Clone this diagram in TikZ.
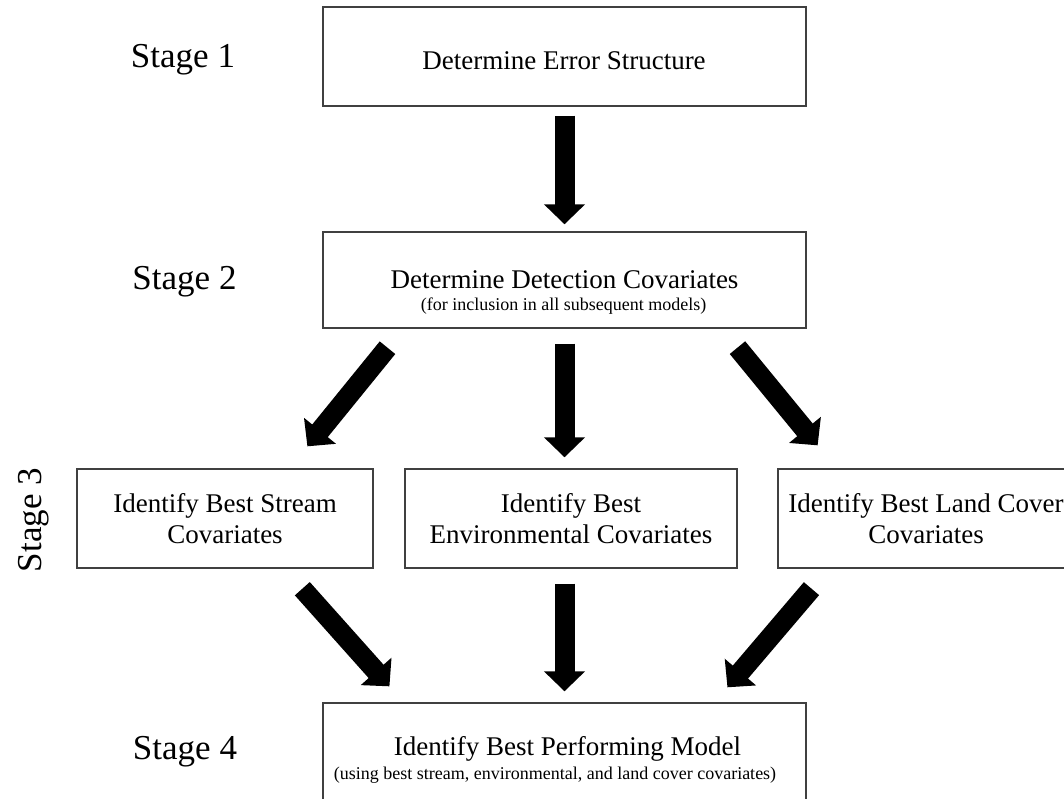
\documentclass[tikz,border=0pt]{standalone}
\usepackage{fontspec}
\setmainfont{Liberation Serif}
\usetikzlibrary{arrows.meta,calc}
\begin{document}
\begin{tikzpicture}[x=1pt,y=-1pt,
  box/.style={draw=black!75, line width=1.4pt, rectangle, inner sep=0pt},
  wide/.style={minimum width=483pt},
  side/.style={minimum width=296pt, minimum height=99pt, align=center, font=\fontsize{27}{31}\selectfont},
  boxtxt/.style={font=\fontsize{27}{31}\selectfont, anchor=base, inner sep=0pt},
  subtxt/.style={font=\fontsize{18}{20}\selectfont, anchor=base, inner sep=0pt},
  stagetxt/.style={font=\fontsize{35}{40}\selectfont, anchor=base, inner sep=0pt},
  fat/.style={line width=20pt, -{Triangle[width=40pt,length=20pt]}},
]
\useasboundingbox (0,0) rectangle (1064,799);
\fill[white] (0,0) rectangle (1064,799);

% boxes
\node[box, wide, minimum height=99pt] (b1) at (564.5,56.5) {};
\node[box, wide, minimum height=96pt] (b2) at (564.5,280) {};
\node[box, side] (sA) at (225,518.5) {Identify Best Stream\\Covariates};
\node[box, side, minimum width=332pt] (sB) at (571,518.5) {Identify Best\\Environmental Covariates};
\node[box, side] (sC) at (926,518.5) {Identify Best Land Cover\\Covariates};
\node[box, wide, minimum height=124pt] (b4) at (564.5,765) {};

% box texts
\node[boxtxt] (t1) at (564,70) {Determine Error Structure};
\node[boxtxt] (t2) at (564.5,288) {Determine Detection Covariates};
\node[subtxt] (t2s) at (563.5,310) {(for inclusion in all subsequent models)};
\node[boxtxt] (t4) at (567.5,755) {Identify Best Performing Model};
\node[subtxt] (t4s) at (555,779) {(using best stream, environmental, and land cover covariates)};

% stage labels
\node[stagetxt] (s1) at (183,68) {Stage 1};
\node[stagetxt] (s2) at (184.5,290) {Stage 2};
\node[stagetxt, rotate=90] (s3) at (41,520) {Stage 3};
\node[stagetxt] (s4) at (185,759) {Stage 4};

% arrows
\draw[fat, shorten <=9pt, shorten >=7pt] (b1.south) -- (b2.north);
\draw[fat, shorten <=15pt, shorten >=11pt] (b2.south) -- (b2.south |- sB.north);
\draw[fat, shorten <=24.5pt, shorten >=28.3pt] ($(b2.south west)!0.1665!(b2.south east)$) -- ($(sA.north west)!0.717!(sA.north east)$);
\draw[fat, shorten <=24.5pt, shorten >=29.7pt] ($(b2.south west)!0.825!(b2.south east)$) -- ($(sC.north west)!0.199!(sC.north east)$);
\draw[fat, shorten <=26.8pt, shorten >=21.4pt] ($(sA.south west)!0.70!(sA.south east)$) -- ($(b4.north west)!0.168!(b4.north east)$);
\draw[fat, shorten <=15pt, shorten >=11pt] (b4.north |- sB.south) -- (b4.north);
\draw[fat, shorten <=26.2pt, shorten >=19.7pt] ($(sC.south west)!0.172!(sC.south east)$) -- ($(b4.north west)!0.81!(b4.north east)$);
\end{tikzpicture}
\end{document}
